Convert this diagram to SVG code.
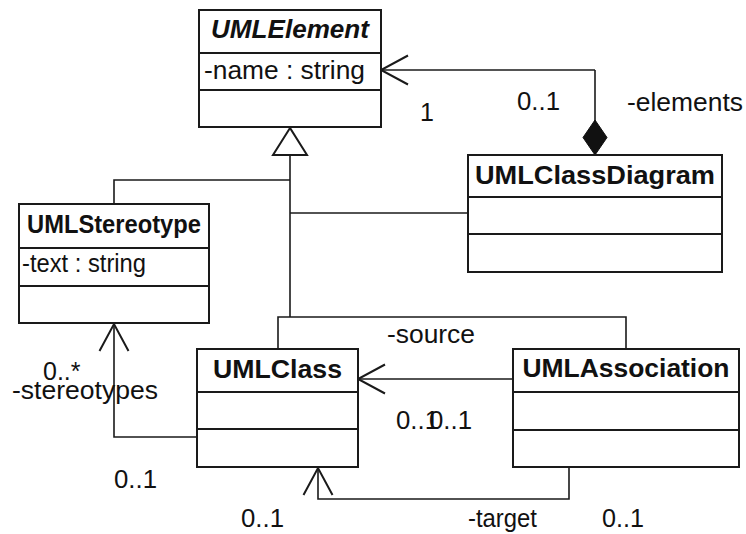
<svg xmlns="http://www.w3.org/2000/svg" width="746" height="534" viewBox="0 0 746 534">
  <style>
    .box { fill: #ffffff; stroke: #1a1a1a; stroke-width: 2; }
    .sep { stroke: #1a1a1a; stroke-width: 2; }
    .title { font-family: "Liberation Sans", Arial, sans-serif; font-size: 26px; font-weight: bold; fill: #111111; text-anchor: middle; }
    .abstract { font-style: italic; }
    .attr { font-family: "Liberation Sans", Arial, sans-serif; font-size: 25px; fill: #111111; }
    .lbl { font-family: "Liberation Sans", Arial, sans-serif; font-size: 25px; fill: #111111; }
    .wire { fill: none; stroke: #1a1a1a; stroke-width: 1.6; }
  </style>
  <defs>
    <marker id="open" markerUnits="userSpaceOnUse" orient="auto" overflow="visible" markerWidth="1" markerHeight="1" refX="0" refY="0">
      <path d="M-27,-14.5 L0,0 L-27,14.5" fill="none" stroke="#1a1a1a" stroke-width="2"/>
    </marker>
    <marker id="generalization" markerUnits="userSpaceOnUse" orient="auto" overflow="visible" markerWidth="1" markerHeight="1" refX="0" refY="0">
      <path d="M0,0 L-27,-17 L-27,17 Z" fill="#ffffff" stroke="#1a1a1a" stroke-width="2"/>
    </marker>
    <marker id="composition" markerUnits="userSpaceOnUse" orient="auto" overflow="visible" markerWidth="1" markerHeight="1" refX="0" refY="0">
      <path d="M-35,0 L-17.5,-12 L0,0 L-17.5,12 Z" fill="#111111" stroke="#111111" stroke-width="1"/>
    </marker>
  </defs>

  <rect width="746" height="534" fill="#ffffff"/>

  <!-- connectors -->
  <g id="connectors">
    <!-- inheritance tree rooted at UMLElement -->
    <path class="wire" d="M114,204 V180 H290"/>
    <path class="wire" d="M468,213 H290"/>
    <path class="wire" d="M278,349 V317 H626 V349"/>
    <path class="wire" d="M290,317 V128" marker-end="url(#generalization)"/>
    <!-- UMLClassDiagram -elements composition -->
    <path class="wire" d="M595,70 H381" marker-end="url(#open)"/>
    <path class="wire" d="M595,70 V155" marker-end="url(#composition)"/>
    <!-- UMLClass -stereotypes -->
    <path class="wire" d="M197,437 H114 V324" marker-end="url(#open)"/>
    <!-- UMLAssociation -source -->
    <path class="wire" d="M513,379 H358" marker-end="url(#open)"/>
    <!-- UMLAssociation -target -->
    <path class="wire" d="M569,467 V499 H318 V468" marker-end="url(#open)"/>

    <text class="lbl" x="420" y="121">1</text>
    <text class="lbl" x="517" y="110" textLength="43" lengthAdjust="spacingAndGlyphs">0..1</text>
    <text class="lbl" x="627" y="111" textLength="116" lengthAdjust="spacingAndGlyphs">-elements</text>
    <text class="lbl" x="43" y="380">0..*</text>
    <text class="lbl" x="12" y="399" textLength="146" lengthAdjust="spacingAndGlyphs">-stereotypes</text>
    <text class="lbl" x="114" y="488" textLength="43" lengthAdjust="spacingAndGlyphs">0..1</text>
    <text class="lbl" x="387" y="343" textLength="88" lengthAdjust="spacingAndGlyphs">-source</text>
    <text class="lbl" x="396" y="429" textLength="43" lengthAdjust="spacingAndGlyphs">0..1</text>
    <text class="lbl" x="429" y="429" textLength="43" lengthAdjust="spacingAndGlyphs">0..1</text>
    <text class="lbl" x="241" y="527" textLength="43" lengthAdjust="spacingAndGlyphs">0..1</text>
    <text class="lbl" x="468" y="527" textLength="69" lengthAdjust="spacingAndGlyphs">-target</text>
    <text class="lbl" x="602" y="527" textLength="42" lengthAdjust="spacingAndGlyphs">0..1</text>
  </g>

  <g id="UMLElement">
    <rect class="box" x="199" y="10" width="182" height="117"/>
    <line class="sep" x1="199" y1="53" x2="381" y2="53"/>
    <line class="sep" x1="199" y1="90" x2="381" y2="90"/>
    <text class="title abstract" x="290" y="38" textLength="158" lengthAdjust="spacingAndGlyphs">UMLElement</text>
    <text class="attr" x="204" y="79" textLength="161" lengthAdjust="spacingAndGlyphs">-name : string</text>
  </g>

  <g id="UMLClassDiagram">
    <rect class="box" x="468" y="155" width="254" height="117"/>
    <line class="sep" x1="468" y1="197" x2="722" y2="197"/>
    <line class="sep" x1="468" y1="234" x2="722" y2="234"/>
    <text class="title" x="595" y="184" textLength="240" lengthAdjust="spacingAndGlyphs">UMLClassDiagram</text>
  </g>

  <g id="UMLStereotype">
    <rect class="box" x="19" y="204" width="190" height="119"/>
    <line class="sep" x1="19" y1="248" x2="209" y2="248"/>
    <line class="sep" x1="19" y1="286" x2="209" y2="286"/>
    <text class="title" x="114" y="233" textLength="174" lengthAdjust="spacingAndGlyphs">UMLStereotype</text>
    <text class="attr" x="22" y="272" textLength="124" lengthAdjust="spacingAndGlyphs">-text : string</text>
  </g>

  <g id="UMLClass">
    <rect class="box" x="197" y="349" width="161" height="118"/>
    <line class="sep" x1="197" y1="392" x2="358" y2="392"/>
    <line class="sep" x1="197" y1="429" x2="358" y2="429"/>
    <text class="title" x="277.5" y="378" textLength="129" lengthAdjust="spacingAndGlyphs">UMLClass</text>
  </g>

  <g id="UMLAssociation">
    <rect class="box" x="513" y="349" width="226" height="118"/>
    <line class="sep" x1="513" y1="392" x2="739" y2="392"/>
    <line class="sep" x1="513" y1="430" x2="739" y2="430"/>
    <text class="title" x="626" y="377" textLength="207" lengthAdjust="spacingAndGlyphs">UMLAssociation</text>
  </g>
</svg>
